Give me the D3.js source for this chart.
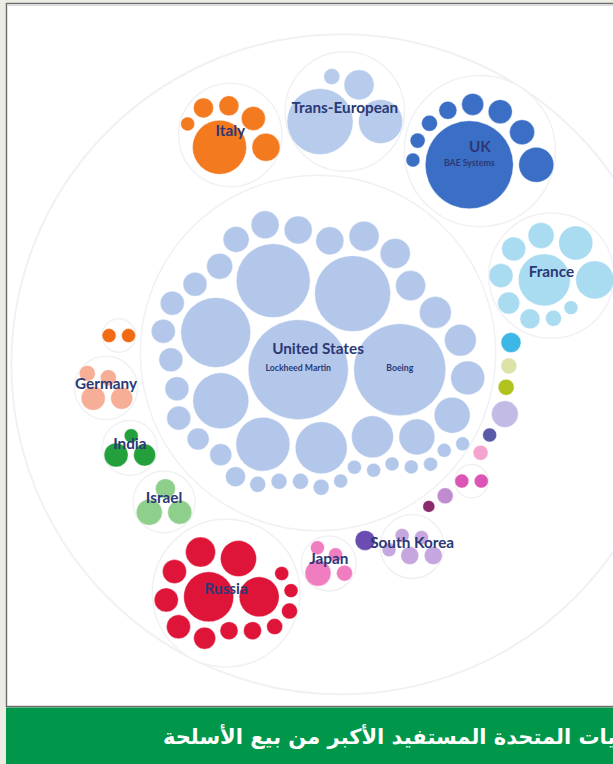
<!DOCTYPE html>
<html><head><meta charset="utf-8">
<script src="https://cdn.jsdelivr.net/npm/d3@7"></script>
<style>
html,body{margin:0;padding:0;background:#ecebe4;}
svg{display:block;}
</style></head>
<body>
<svg id="chart" width="613" height="764"></svg>
<script>
// ---- DATA (arms sales, US$ bn) ----
const countries = ["United States","Spain","Germany","India","Israel","Russia","Japan","Singapore","South Korea","Poland","Turkey","Switzerland","Ukraine","Australia","Norway","Finland","Sweden","Canada","France","UK","Trans-European","Italy"];
const showLabel = [true,false,true,true,true,true,true,false,true,false,false,false,false,false,false,false,false,false,true,true,true,true];
const colors = ["#b3c7ea","#f26b13","#f6ae96","#23a03b","#8fcf8c","#df1439","#f07dc0","#6a4cb2","#c6a6de","#8b2b6c","#c08ccf","#db55b4","#f5a4d0","#5b5aa9","#c2bbe6","#b1c21e","#dde3a8","#3db8e6","#a9dbf1","#3b6fc6","#b7cbec","#f47a20"];
const usSales = [36.4,30.8,21.0,19.9,17.8,11.4,10.6,9.8,6.4,4.7,4.7,4.2,3.7,3.7,3.3,3.3,3.3,2.85,2.85,2.85,2.46,2.46,2.1,2.1,2.1,2.1,2.1,2.1,1.76,1.76,1.46,0.93,0.93,0.93,0.93,0.71,0.71,0.71,0.71,0.71,0.71,0.71,0.71];
const spainSales = [0.71,0.71];
const germanySales = [2.1,1.76,0.93,0.93];
const indiaSales = [2.1,1.76,0.71];
const israelSales = [2.46,2.1,1.46];
const russiaSales = [9.1,5.82,4.72,3.28,2.1,2.1,2.1,1.76,1.18,1.18,0.93,0.93,0.71,0.71];
const japanSales = [2.46,0.93,0.71,0.71];
const singaporeSales = [1.46];
const southKoreaSales = [1.18,1.18,0.71,0.71,0.71];
const polandSales = [0.52];
const turkeySales = [0.93];
const switzerlandSales = [0.71,0.71];
const ukraineSales = [0.82];
const australiaSales = [0.71];
const norwaySales = [2.6];
const finlandSales = [0.93];
const swedenSales = [0.93];
const canadaSales = [1.46];
const franceSales = [9.84,5.26,4.21,2.46,2.1,2.1,1.76,1.46,0.93,0.71];
const ukSales = [28.2,4.46,2.28,2.1,1.76,1.18,0.93,0.82,0.71];
const transEuropeanSales = [15.86,7.05,3.28,0.93];
const italySales = [10.61,2.85,2.1,1.46,1.46,0.71];
const salesByCountry = [usSales,spainSales,germanySales,indiaSales,israelSales,russiaSales,japanSales,singaporeSales,southKoreaSales,polandSales,turkeySales,switzerlandSales,ukraineSales,australiaSales,norwaySales,finlandSales,swedenSales,canadaSales,franceSales,ukSales,transEuropeanSales,italySales];
const companyLabels = [["United States",0,"Lockheed Martin"],["United States",1,"Boeing"],["UK",0,"BAE Systems"]];
const title = "الولايات المتحدة المستفيد الأكبر من بيع الأسلحة";

// ---- layout settings ----
const W = 613, H = 764;
const radiusScale = d3.scaleSqrt().domain([0, 36.4]).range([0, 50]);
const padding = 5.5;
const rotationDeg = 185;       // orientation of the ring of countries around the largest one
const focus = [318, 353];      // where the largest country's bubble is centred

// ---- classic (v3-style) circle packing ----
function place(a, b, c) {
  let db = a.r + c.r, dx = b.x - a.x, dy = b.y - a.y;
  if (db && (dx || dy)) {
    let da = b.r + c.r, dc = dx * dx + dy * dy;
    da *= da; db *= db;
    const x = 0.5 + (db - da) / (2 * dc);
    const y = Math.sqrt(Math.max(0, 2 * da * (db + dc) - (db -= dc) * db - da * da)) / (2 * dc);
    c.x = a.x + x * dx + y * dy;
    c.y = a.y + x * dy - y * dx;
  } else { c.x = a.x + db; c.y = a.y; }
}
function intersects(a, b) {
  const dx = b.x - a.x, dy = b.y - a.y, dr = a.r + b.r;
  return 0.999 * dr * dr > dx * dx + dy * dy;
}
function insert(a, b) { const c = a._n; a._n = b; b._p = a; b._n = c; c._p = b; }
function splice(a, b) { a._n = b; b._p = a; }
function packSiblings(node) {
  const nodes = node.children;
  if (!nodes || !nodes.length) return;
  const n = nodes.length;
  let xMin = Infinity, xMax = -Infinity, yMin = Infinity, yMax = -Infinity;
  const bound = d => { xMin = Math.min(d.x - d.r, xMin); xMax = Math.max(d.x + d.r, xMax); yMin = Math.min(d.y - d.r, yMin); yMax = Math.max(d.y + d.r, yMax); };
  nodes.forEach(d => { d._n = d._p = d; });
  let a = nodes[0], b, c, j, k, s1, s2;
  a.x = -a.r; a.y = 0; bound(a);
  if (n > 1) {
    b = nodes[1]; b.x = b.r; b.y = 0; bound(b);
    if (n > 2) {
      c = nodes[2]; place(a, b, c); bound(c);
      insert(a, c); a._p = c; insert(c, b); b = a._n;
      let guard = 0;
      for (let i = 3; i < n && guard < 100000; i++, guard++) {
        place(a, b, c = nodes[i]);
        let isect = 0; s1 = 1; s2 = 1;
        for (j = b._n; j !== b; j = j._n, s1++) { if (intersects(j, c)) { isect = 1; break; } }
        if (isect === 1) {
          for (k = a._p; k !== j._p; k = k._p, s2++) { if (intersects(k, c)) break; }
        }
        if (isect) {
          if (s1 < s2 || (s1 === s2 && b.r < a.r)) splice(a, b = j); else splice(a = k, b);
          i--;
        } else { insert(a, c); b = c; bound(c); }
      }
    }
  }
  const cx = (xMin + xMax) / 2, cy = (yMin + yMax) / 2;
  let cr = 0;
  nodes.forEach(d => { d.x -= cx; d.y -= cy; cr = Math.max(cr, d.r + Math.sqrt(d.x * d.x + d.y * d.y)); });
  node.r = cr;
  nodes.forEach(d => { delete d._n; delete d._p; });
}
function pack(root) {
  const dr = padding / 2;
  root.eachAfter(d => { d.r = radiusScale(d.value); });
  root.eachAfter(packSiblings);
  root.eachAfter(d => { d.r += dr; });
  root.eachAfter(packSiblings);
  root.eachAfter(d => { d.r -= dr; });
  root.x = 0; root.y = 0;
  // rotate the arrangement of countries (not their inner layout)
  const th = rotationDeg * Math.PI / 180, cs = Math.cos(th), sn = Math.sin(th);
  root.children.forEach(gp => {
    const x = gp.x, y = gp.y;
    gp.x = x * cs - y * sn; gp.y = x * sn + y * cs;
  });
  const first = root.children[0];
  const ox = focus[0] - first.x, oy = focus[1] - first.y;
  (function tr(node, x, y) {
    node.x = x += node.x; node.y = y += node.y;
    if (node.children) node.children.forEach(ch => tr(ch, x, y));
  })(root, ox, oy);
  return root;
}

// ---- build hierarchy ----
const data = { name: "root", children: countries.map((c, i) => ({
  name: c, color: colors[i], label: showLabel[i],
  children: salesByCountry[i].map((v, j) => ({ name: c + " " + (j + 1), value: v, idx: j }))
})) };
const root = pack(d3.hierarchy(data).sum(d => d.value || 0));

// ---- draw ----
const svg = d3.select("#chart");
svg.append("rect").attr("x", 0).attr("y", 0).attr("width", W).attr("height", H).attr("fill", "#ecebe4");
svg.append("rect").attr("x", 6.5).attr("y", 3.5).attr("width", W).attr("height", 703).attr("fill", "#ffffff").attr("stroke", "#6a6a6a").attr("stroke-width", 1.4);
svg.append("line").attr("x1", 8).attr("x2", W).attr("y1", 5.2).attr("y2", 5.2).attr("stroke", "#c9cbd6").attr("stroke-width", 1);

svg.append("clipPath").attr("id", "panel").append("rect").attr("x", 7.5).attr("y", 4.5).attr("width", W).attr("height", 701);
const g = svg.append("g").attr("clip-path", "url(#panel)");

g.append("circle").attr("cx", root.x).attr("cy", root.y).attr("r", root.r)
  .attr("fill", "#fff").attr("stroke", "#f1f1f3").attr("stroke-width", 2);
const groups = root.children;
g.selectAll("circle.group").data(groups.filter(d => d.children.length > 1)).join("circle")
  .attr("class", "group").attr("cx", d => d.x).attr("cy", d => d.y).attr("r", d => d.r)
  .attr("fill", "#fff").attr("stroke", "#f1f1f4").attr("stroke-width", 1.5);

g.selectAll("circle.leaf").data(root.leaves()).join("circle")
  .attr("class", "leaf").attr("cx", d => d.x).attr("cy", d => d.y).attr("r", d => d.r)
  .attr("fill", d => d.parent.data.color)
  .attr("stroke", "#ffffff").attr("stroke-opacity", 0.5).attr("stroke-width", 0.8);

companyLabels.forEach(([country, idx, label]) => {
  const grp = groups.find(d => d.data.name === country);
  const leaf = grp.children[idx];
  g.append("text").attr("x", leaf.x).attr("y", leaf.y + 1.5).attr("text-anchor", "middle")
    .attr("font-family", "Lato, 'Open Sans', sans-serif").attr("font-weight", 700).attr("font-size", 8.7)
    .attr("fill", "#2b3875").text(label);
});

g.selectAll("text.country").data(groups.filter(d => d.data.label)).join("text")
  .attr("class", "country").attr("x", d => d.x).attr("y", d => d.y + 1)
  .attr("text-anchor", "middle")
  .attr("font-family", "Lato, 'Open Sans', sans-serif").attr("font-weight", 700).attr("font-size", 15.3)
  .attr("fill", "#2b3875").text(d => d.data.name);

svg.append("rect").attr("x", 6).attr("y", 707.5).attr("width", W).attr("height", H - 707.5).attr("fill", "#00974a");
const t = svg.append("text").attr("x", 600).attr("y", 744).attr("direction", "rtl").attr("text-anchor", "start")
  .attr("font-family", "'DejaVu Sans', 'Noto Sans', sans-serif").attr("font-weight", 700).attr("font-size", 21)
  .attr("fill", "#ffffff").text(title);
const bb = t.node().getBBox();
t.attr("x", 600 + (163 - bb.x));
</script>
</body></html>
